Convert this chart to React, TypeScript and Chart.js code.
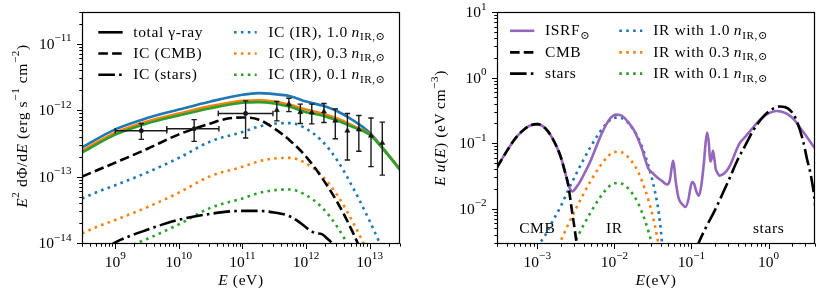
import React, { useEffect, useRef } from "react";
import { Chart, registerables } from "chart.js";
Chart.register(...registerables);

// ---------------- Left panel data ----------------
const totalE = [3e8, 1e9, 3.16e9, 1e10, 3.16e10, 1e11, 1.78e11, 3.16e11, 5.62e11, 1e12, 1.78e12, 3.16e12, 5.62e12, 1e13, 1.78e13, 3e13];
const totalIR10 = [2.75e-13, 5.13e-13, 7.59e-13, 1.02e-12, 1.35e-12, 1.70e-12, 1.80e-12, 1.74e-12, 1.62e-12, 1.35e-12, 1.17e-12, 9.55e-13, 6.92e-13, 4.57e-13, 2.40e-13, 1.29e-13];
const totalIR03 = [2.45e-13, 4.57e-13, 6.76e-13, 8.91e-13, 1.15e-12, 1.38e-12, 1.41e-12, 1.35e-12, 1.20e-12, 1.02e-12, 8.91e-13, 7.41e-13, 5.75e-13, 4.37e-13, 2.37e-13, 1.29e-13];
const totalIR01 = [2.29e-13, 4.27e-13, 6.31e-13, 8.32e-13, 1.07e-12, 1.29e-12, 1.32e-12, 1.26e-12, 1.12e-12, 9.33e-13, 8.32e-13, 6.92e-13, 5.50e-13, 4.27e-13, 2.34e-13, 1.26e-13];

const cmbE = [3e8, 1e9, 3.16e9, 1e10, 3.16e10, 5.62e10, 1e11, 1.78e11, 3.16e11, 5.62e11, 1e12, 1.78e12, 3.16e12, 5.62e12, 7.94e12];
const icCMB = [1.0e-13, 1.62e-13, 2.60e-13, 4.32e-13, 6.31e-13, 7.41e-13, 7.76e-13, 7.24e-13, 5.30e-13, 3.47e-13, 2.0e-13, 9.55e-14, 3.98e-14, 1.35e-14, 6.3e-15];

const irE = [3e8, 5.62e8, 1e9, 3.16e9, 1e10, 3.16e10, 1e11, 1.78e11, 3.16e11, 5.62e11, 1e12, 1.78e12, 3.16e12, 5.62e12, 1e13, 1.78e13];
const icIR10 = [4.68e-14, 6.03e-14, 7.41e-14, 1.15e-13, 1.91e-13, 3.39e-13, 4.68e-13, 5.62e-13, 6.24e-13, 6.38e-13, 5.25e-13, 3.43e-13, 1.70e-13, 6.46e-14, 2.14e-14, 6.3e-15];
const icIR03 = [1.40e-14, 1.81e-14, 2.22e-14, 3.45e-14, 5.73e-14, 1.02e-13, 1.40e-13, 1.69e-13, 1.87e-13, 1.91e-13, 1.58e-13, 1.03e-13, 5.1e-14, 1.94e-14, 6.4e-15, 1.9e-15];
const icIR01 = [4.68e-15, 6.03e-15, 7.41e-15, 1.15e-14, 1.91e-14, 3.39e-14, 4.68e-14, 5.62e-14, 6.24e-14, 6.38e-14, 5.25e-14, 3.43e-14, 1.70e-14, 6.46e-15, 2.14e-15, 6.3e-16];

const starsE = [7.94e8, 1e9, 3.16e9, 1e10, 3.16e10, 1e11, 1.78e11, 3.16e11, 5.62e11, 7.94e11, 1.12e12, 1.41e12, 1.78e12, 2.14e12, 2.63e12, 3.16e12];
const icStars = [8.9e-15, 1.02e-14, 1.58e-14, 2.24e-14, 2.75e-14, 3.05e-14, 3.05e-14, 2.88e-14, 2.51e-14, 2.04e-14, 1.58e-14, 1.41e-14, 1.36e-14, 1.17e-14, 9.5e-15, 6.3e-15];

const ptE = [2.57e9, 1.74e10, 1.12e11, 3.47e11, 5.37e11, 8.13e11, 1.23e12, 1.91e12, 2.88e12, 4.47e12, 6.76e12, 1.05e13, 1.58e13];
const ptF = [4.9e-13, 5.25e-13, 8.9e-13, 1.0e-12, 1.23e-12, 9.3e-13, 9.2e-13, 9.5e-13, 6.9e-13, 4.9e-13, 5.1e-13, 4.1e-13, 3.2e-13];
const ptFLo = [3.63e-13, 3.39e-13, 3.8e-13, 6.9e-13, 9.5e-13, 6.3e-13, 6.2e-13, 6.5e-13, 3.7e-13, 1.78e-13, 2.4e-13, 1.41e-13, 1.05e-13];
const ptFHi = [6.3e-13, 7.2e-13, 1.38e-12, 1.35e-12, 1.51e-12, 1.23e-12, 1.23e-12, 1.26e-12, 1.04e-12, 8.9e-13, 8.3e-13, 7.6e-13, 6.6e-13];
const ptELo = [1e9, 6.46e9, 4.17e10, null, null, null, null, null, null, null, null, null, null];
const ptEHi = [6.46e9, 4.27e10, 3.02e11, null, null, null, null, null, null, null, null, null, null];

const leftXRange = [3e8, 3e13];
const leftYRange = [1e-14, 3e-11];
const leftXTicks = [1e9, 1e10, 1e11, 1e12, 1e13];
const leftYTicks = [1e-14, 1e-13, 1e-12, 1e-11];

// ---------------- Right panel data ----------------
const isrfE = [3.0e-4, 3.98e-4, 5.01e-4, 6.31e-4, 7.94e-4, 1.0e-3, 1.26e-3, 1.58e-3, 2.0e-3, 2.24e-3, 2.51e-3, 2.69e-3, 2.85e-3, 3.02e-3, 3.31e-3, 3.56e-3, 4.17e-3, 4.81e-3, 5.62e-3, 6.50e-3, 7.41e-3, 8.34e-3, 9.33e-3, 1.05e-2, 1.175e-2, 1.31e-2, 1.51e-2, 1.77e-2, 2.0e-2, 2.28e-2, 2.51e-2, 2.77e-2, 3.16e-2, 3.57e-2, 4.17e-2, 4.82e-2, 5.25e-2, 5.56e-2, 5.78e-2, 6.0e-2, 6.19e-2, 6.46e-2, 6.84e-2, 7.59e-2, 8.36e-2, 9.12e-2, 9.77e-2, 0.102, 0.108, 0.116, 0.125, 0.135, 0.145, 0.153, 0.160, 0.168, 0.175, 0.182, 0.190, 0.197, 0.206, 0.219, 0.231, 0.251, 0.282, 0.315, 0.355, 0.395, 0.427, 0.501, 0.590, 0.708, 0.879, 1.047, 1.25, 1.48, 1.78, 2.14, 2.65, 3.16, 3.77, 4.0];
const isrfU = [0.0427, 0.0741, 0.112, 0.151, 0.184, 0.195, 0.170, 0.1175, 0.0631, 0.0398, 0.0240, 0.0195, 0.0184, 0.0193, 0.0224, 0.0254, 0.0363, 0.0509, 0.0794, 0.122, 0.170, 0.218, 0.254, 0.272, 0.269, 0.251, 0.209, 0.162, 0.120, 0.0813, 0.0562, 0.0407, 0.0347, 0.0302, 0.0263, 0.0234, 0.0275, 0.0437, 0.0540, 0.0417, 0.0285, 0.0200, 0.0142, 0.0117, 0.0106, 0.0138, 0.0219, 0.0254, 0.0240, 0.0182, 0.0158, 0.0240, 0.0509, 0.105, 0.145, 0.100, 0.0525, 0.0575, 0.0766, 0.0603, 0.0407, 0.0347, 0.0320, 0.0331, 0.0372, 0.0454, 0.0631, 0.0859, 0.102, 0.126, 0.158, 0.204, 0.259, 0.292, 0.309, 0.302, 0.275, 0.229, 0.163, 0.123, 0.0912, 0.0841];

const cmbFieldE = [3.0e-4, 3.98e-4, 5.01e-4, 6.31e-4, 7.94e-4, 1.0e-3, 1.26e-3, 1.58e-3, 2.0e-3, 2.24e-3, 2.51e-3, 2.82e-3, 3.16e-3, 3.39e-3];
const cmbFieldU = [0.0427, 0.0741, 0.112, 0.151, 0.184, 0.195, 0.170, 0.1175, 0.0631, 0.0398, 0.0234, 0.00912, 0.00363, 0.00178];

const irFieldE = [1.12e-3, 1.26e-3, 1.58e-3, 2.0e-3, 2.51e-3, 3.16e-3, 3.98e-3, 5.01e-3, 6.31e-3, 7.94e-3, 1.0e-2, 1.26e-2, 1.58e-2, 2.0e-2, 2.51e-2, 2.82e-2, 3.16e-2, 3.55e-2, 3.80e-2, 3.98e-2, 4.17e-2, 4.37e-2, 4.57e-2];
const irU10 = [3.16e-3, 3.89e-3, 6.46e-3, 1.07e-2, 1.91e-2, 3.31e-2, 5.62e-2, 9.12e-2, 0.141, 0.200, 0.245, 0.240, 0.191, 0.126, 0.0646, 0.0417, 0.0251, 0.0132, 7.94e-3, 5.01e-3, 2.82e-3, 1.41e-3, 6.3e-4];
const irU03 = [9.5e-4, 1.17e-3, 1.94e-3, 3.21e-3, 5.73e-3, 9.93e-3, 1.69e-2, 2.74e-2, 4.23e-2, 6.0e-2, 7.35e-2, 7.2e-2, 5.73e-2, 3.78e-2, 1.94e-2, 1.25e-2, 7.53e-3, 3.96e-3, 2.38e-3, 1.50e-3, 8.5e-4, 4.2e-4, 1.9e-4];
const irU01 = [3.16e-4, 3.89e-4, 6.46e-4, 1.07e-3, 1.91e-3, 3.31e-3, 5.62e-3, 9.12e-3, 1.41e-2, 2.0e-2, 2.45e-2, 2.40e-2, 1.91e-2, 1.26e-2, 6.46e-3, 4.17e-3, 2.51e-3, 1.32e-3, 7.9e-4, 5.0e-4, 2.8e-4, 1.4e-4, 6.3e-5];

const starFieldE = [0.117, 0.126, 0.158, 0.2, 0.251, 0.316, 0.398, 0.501, 0.631, 0.794, 1.0, 1.26, 1.41, 1.78, 2.24, 2.82, 3.16, 3.55, 3.98, 4.17];
const starFieldU = [2.51e-3, 3.16e-3, 5.5e-3, 9.33e-3, 0.0166, 0.0302, 0.0562, 0.0933, 0.155, 0.229, 0.302, 0.355, 0.363, 0.339, 0.240, 0.105, 0.0562, 0.0316, 0.0126, 6.3e-3];

const rightXRange = [3e-4, 4];
const rightYRange = [3e-3, 10];
const rightXTicks = [1e-3, 1e-2, 1e-1, 1];
const rightYTicks = [1e-2, 1e-1, 1, 10];
const noteTexts = ["CMB", "IR", "stars"];
const noteX = [1e-3, 1e-2, 1];
const noteY = 4.2e-3;

// ---------------- styling ----------------
const FAM = '"Liberation Serif","DejaVu Serif",serif';
const FS = 15.5;
const LW = 2.6;
const DASHED = [9.6, 4.2];
const DASHDOT = [16.6, 4.2, 2.6, 4.2];
const DOTTED = [2.6, 4.3];
const BLUE = "#1f77b4", ORANGE = "#ff7f0e", GREEN = "#2ca02c", PURPLE = "#9467bd";

type Seg = { t: string; it?: boolean; s?: number; dy?: number };
const R = (t: string): Seg => ({ t });
const I = (t: string): Seg => ({ t, it: true });
const SP = (t: string): Seg => ({ t, s: 0.72, dy: -0.48 });
const SB = (t: string): Seg => ({ t, s: 0.72, dy: 0.22 });

function segFont(g: Seg, size: number) {
  return `${g.it ? "italic " : ""}${(size * (g.s ?? 1)).toFixed(2)}px ${FAM}`;
}
function richWidth(ctx: CanvasRenderingContext2D, segs: Seg[], size: number) {
  let w = 0;
  for (const g of segs) {
    ctx.font = segFont(g, size);
    w += ctx.measureText(g.t).width;
  }
  return w;
}
function drawRich(ctx: CanvasRenderingContext2D, segs: Seg[], x: number, y: number, size: number, align: string) {
  const w = richWidth(ctx, segs, size);
  let cx = align === "left" ? x : align === "center" ? x - w / 2 : x - w;
  ctx.textAlign = "left";
  ctx.textBaseline = "alphabetic";
  for (const g of segs) {
    ctx.font = segFont(g, size);
    ctx.fillText(g.t, cx, y + (g.dy ?? 0) * size);
    cx += ctx.measureText(g.t).width;
  }
}
const expLabel = (v: number): Seg[] => {
  const e = Math.round(Math.log10(v));
  return [R("10"), SP((e < 0 ? "\u2212" : "") + Math.abs(e))];
};

type LegItem = { col: number; row: number; color: string; dash: number[]; segs: Seg[] };
type PanelCfg = {
  xRange: number[]; yRange: number[]; xTicks: number[]; yTicks: number[];
  xTitle: Seg[]; yTitle: Seg[]; yTitleX: number; yTitleY: number;
  legCols: { x1: number; x2: number; tx: number }[]; legRows: number[]; legItems: LegItem[];
  notes?: { x: number; y: number; text: string }[];
  err?: boolean;
  datasets: any[];
};

function lineDs(xs: number[], ys: number[], color: string, dash: number[], width = LW) {
  return {
    type: "line",
    data: xs.map((x, i) => ({ x, y: ys[i] })),
    borderColor: color,
    borderWidth: width,
    borderDash: dash,
    borderCapStyle: "butt",
    pointRadius: 0,
    fill: false,
    cubicInterpolationMode: "monotone",
    clip: 0,
  };
}

function makeDecor(cfg: PanelCfg) {
  return {
    id: "decor",
    afterDatasetsDraw(chart: any) {
      if (!cfg.err) return;
      const ctx: CanvasRenderingContext2D = chart.ctx;
      const xs = chart.scales.x, ys = chart.scales.y;
      ctx.save();
      ctx.strokeStyle = "#1a1a1a";
      ctx.lineWidth = 1.4;
      const cap = 2.7;
      for (let i = 0; i < ptE.length; i++) {
        const px = xs.getPixelForValue(ptE[i]);
        const py = ys.getPixelForValue(ptF[i]);
        const y0 = ys.getPixelForValue(ptFLo[i]);
        const y1 = ys.getPixelForValue(ptFHi[i]);
        ctx.beginPath();
        ctx.moveTo(px, y0); ctx.lineTo(px, y1);
        ctx.moveTo(px - cap, y0); ctx.lineTo(px + cap, y0);
        ctx.moveTo(px - cap, y1); ctx.lineTo(px + cap, y1);
        const lo = ptELo[i], hi = ptEHi[i];
        if (lo != null && hi != null) {
          const x0 = xs.getPixelForValue(lo), x1 = xs.getPixelForValue(hi);
          ctx.moveTo(x0, py); ctx.lineTo(x1, py);
          ctx.moveTo(x0, py - cap); ctx.lineTo(x0, py + cap);
          ctx.moveTo(x1, py - cap); ctx.lineTo(x1, py + cap);
        }
        ctx.stroke();
      }
      ctx.restore();
    },
    afterDraw(chart: any) {
      const ctx: CanvasRenderingContext2D = chart.ctx;
      const xs = chart.scales.x, ys = chart.scales.y;
      const { left, right, top, bottom } = chart.chartArea;
      const L = Math.round(left) + 0.5, Rr = Math.round(right) - 0.5;
      const T = Math.round(top) + 0.5, B = Math.round(bottom) + 0.5;
      ctx.save();
      ctx.fillStyle = "#000";
      ctx.strokeStyle = "#000";
      (ctx as any).letterSpacing = "0px";
      // ticks
      ctx.lineWidth = 1;
      ctx.beginPath();
      const [x0, x1] = cfg.xRange;
      for (let d = Math.floor(Math.log10(x0)); d <= Math.ceil(Math.log10(x1)); d++) {
        for (let m = 1; m <= 9; m++) {
          const v = m * Math.pow(10, d);
          if (v < x0 * 0.999 || v > x1 * 1.001) continue;
          const px = Math.round(xs.getPixelForValue(v)) + 0.5;
          ctx.moveTo(px, B);
          ctx.lineTo(px, B + (m === 1 ? 5.5 : 3.2));
        }
      }
      const [y0, y1] = cfg.yRange;
      for (let d = Math.floor(Math.log10(y0)); d <= Math.ceil(Math.log10(y1)); d++) {
        for (let m = 1; m <= 9; m++) {
          const v = m * Math.pow(10, d);
          if (v < y0 * 0.999 || v > y1 * 1.001) continue;
          const py = Math.round(ys.getPixelForValue(v)) + 0.5;
          ctx.moveTo(L, py);
          ctx.lineTo(L - (m === 1 ? 5.5 : 3.2), py);
        }
      }
      ctx.stroke();
      // tick labels
      for (const v of cfg.xTicks) {
        drawRich(ctx, expLabel(v), xs.getPixelForValue(v), 266.5, FS, "center");
      }
      for (const v of cfg.yTicks) {
        drawRich(ctx, expLabel(v), L - 11, ys.getPixelForValue(v) + 5.1, FS, "right");
      }
      // titles
      (ctx as any).letterSpacing = "0.6px";
      drawRich(ctx, cfg.xTitle, (left + right) / 2, 285, FS, "center");
      ctx.save();
      ctx.translate(cfg.yTitleX, cfg.yTitleY);
      ctx.rotate(-Math.PI / 2);
      drawRich(ctx, cfg.yTitle, 0, 0, FS, "center");
      ctx.restore();
      // notes
      if (cfg.notes) {
        for (const n of cfg.notes) {
          drawRich(ctx, [R(n.text)], xs.getPixelForValue(n.x), ys.getPixelForValue(n.y), FS, "center");
        }
      }
      // legend
      for (const it of cfg.legItems) {
        const c = cfg.legCols[it.col];
        const ry = cfg.legRows[it.row];
        ctx.save();
        ctx.strokeStyle = it.color;
        ctx.lineWidth = LW;
        ctx.lineCap = "butt";
        ctx.setLineDash(it.dash);
        ctx.beginPath();
        ctx.moveTo(c.x1, ry);
        ctx.lineTo(c.x2, ry);
        ctx.stroke();
        ctx.restore();
        drawRich(ctx, it.segs, c.tx, ry + 4.5, FS, "left");
      }
      // frame
      (ctx as any).letterSpacing = "0px";
      ctx.setLineDash([]);
      ctx.lineWidth = 1.2;
      ctx.strokeStyle = "#000";
      ctx.strokeRect(L, T, Rr - L, B - T);
      ctx.restore();
    },
  };
}

function makeChart(canvas: HTMLCanvasElement, cfg: PanelCfg) {
  return new Chart(canvas, {
    type: "line",
    data: { datasets: cfg.datasets },
    options: {
      responsive: false,
      maintainAspectRatio: false,
      devicePixelRatio: 1,
      animation: false,
      events: [],
      layout: { padding: { left: 0, right: 15, top: 12, bottom: 0 } },
      plugins: { legend: { display: false }, tooltip: { enabled: false } },
      scales: {
        x: {
          type: "logarithmic",
          min: cfg.xRange[0],
          max: cfg.xRange[1],
          ticks: { display: false },
          grid: { display: false },
          border: { display: false },
          afterFit: (s: any) => { s.height = 54; },
        },
        y: {
          type: "logarithmic",
          min: cfg.yRange[0],
          max: cfg.yRange[1],
          ticks: { display: false },
          grid: { display: false },
          border: { display: false },
          afterFit: (s: any) => { s.width = 82; },
        },
      },
    } as any,
    plugins: [makeDecor(cfg) as any],
  } as any);
}

const nIR = (v: string): Seg[] => [R(v), R("\u2009"), I("n"), SB("IR,\u2299")];

const leftCfg: PanelCfg = {
  xRange: leftXRange, yRange: leftYRange, xTicks: leftXTicks, yTicks: leftYTicks,
  xTitle: [I("E"), R(" (eV)")],
  yTitle: [I("E"), SP("2"), R(" d\u03A6/d"), I("E"), R(" (erg s"), SP("\u22121"), R(" cm"), SP("\u22122"), R(")")],
  yTitleX: 26.5, yTitleY: 126,
  legCols: [{ x1: 98.3, x2: 122.7, tx: 133.3 }, { x1: 234, x2: 256.7, tx: 268.3 }],
  legRows: [32.3, 53.5, 74.8],
  legItems: [
    { col: 0, row: 0, color: "#000", dash: [], segs: [R("total \u03B3-ray")] },
    { col: 0, row: 1, color: "#000", dash: DASHED, segs: [R("IC (CMB)")] },
    { col: 0, row: 2, color: "#000", dash: DASHDOT, segs: [R("IC (stars)")] },
    { col: 1, row: 0, color: BLUE, dash: DOTTED, segs: nIR("IC (IR), 1.0") },
    { col: 1, row: 1, color: ORANGE, dash: DOTTED, segs: nIR("IC (IR), 0.3") },
    { col: 1, row: 2, color: GREEN, dash: DOTTED, segs: nIR("IC (IR), 0.1") },
  ],
  err: true,
  datasets: [
    {
      type: "line",
      showLine: false,
      data: ptE.map((x, i) => ({ x, y: ptF[i] })),
      pointStyle: ptE.map((_, i) => (i < 3 ? "circle" : "triangle")),
      pointRadius: ptE.map((_, i) => (i < 3 ? 2.2 : 3)),
      pointBackgroundColor: "#111",
      pointBorderColor: "#111",
      pointBorderWidth: 0.5,
    },
    lineDs(totalE, totalIR01, GREEN, []),
    lineDs(totalE, totalIR03, ORANGE, []),
    lineDs(totalE, totalIR10, BLUE, []),
    lineDs(cmbE, icCMB, "#000", DASHED),
    lineDs(starsE, icStars, "#000", DASHDOT),
    lineDs(irE, icIR10, BLUE, DOTTED),
    lineDs(irE, icIR03, ORANGE, DOTTED),
    lineDs(irE, icIR01, GREEN, DOTTED),
  ],
};

const rightCfg: PanelCfg = {
  xRange: rightXRange, yRange: rightYRange, xTicks: rightXTicks, yTicks: rightYTicks,
  xTitle: [I("E"), R("(eV)")],
  yTitle: [I("E"), R("\u2009"), I("u"), R("("), I("E"), R(")"), R(" (eV\u2009cm"), SP("\u22123"), R(")")],
  yTitleX: 30, yTitleY: 128,
  legCols: [{ x1: 95, x2: 119.3, tx: 130 }, { x1: 204.3, x2: 227.3, tx: 238.3 }],
  legRows: [30.8, 52.4, 73.6],
  legItems: [
    { col: 0, row: 0, color: PURPLE, dash: [], segs: [R("ISRF"), SB("\u2299")] },
    { col: 0, row: 1, color: "#000", dash: DASHED, segs: [R("CMB")] },
    { col: 0, row: 2, color: "#000", dash: DASHDOT, segs: [R("stars")] },
    { col: 1, row: 0, color: BLUE, dash: DOTTED, segs: nIR("IR with 1.0") },
    { col: 1, row: 1, color: ORANGE, dash: DOTTED, segs: nIR("IR with 0.3") },
    { col: 1, row: 2, color: GREEN, dash: DOTTED, segs: nIR("IR with 0.1") },
  ],
  notes: noteTexts.map((t, i) => ({ x: noteX[i], y: noteY, text: t })),
  datasets: [
    lineDs(cmbFieldE, cmbFieldU, "#000", DASHED),
    lineDs(starFieldE, starFieldU, "#000", DASHDOT),
    lineDs(isrfE, isrfU, PURPLE, []),
    lineDs(irFieldE, irU10, BLUE, DOTTED),
    lineDs(irFieldE, irU03, ORANGE, DOTTED),
    lineDs(irFieldE, irU01, GREEN, DOTTED),
  ],
};

export default function App() {
  const leftRef = useRef<HTMLCanvasElement>(null);
  const rightRef = useRef<HTMLCanvasElement>(null);
  useEffect(() => {
    const charts = [makeChart(leftRef.current!, leftCfg), makeChart(rightRef.current!, rightCfg)];
    return () => charts.forEach((c) => c.destroy());
  }, []);
  return (
    <div style={{ position: "absolute", left: 0, top: 0, width: 830, height: 297, background: "#fff", display: "flex" }}>
      <canvas ref={leftRef} width={415} height={297} style={{ width: 415, height: 297, display: "block" }} />
      <canvas ref={rightRef} width={415} height={297} style={{ width: 415, height: 297, display: "block" }} />
    </div>
  );
}
